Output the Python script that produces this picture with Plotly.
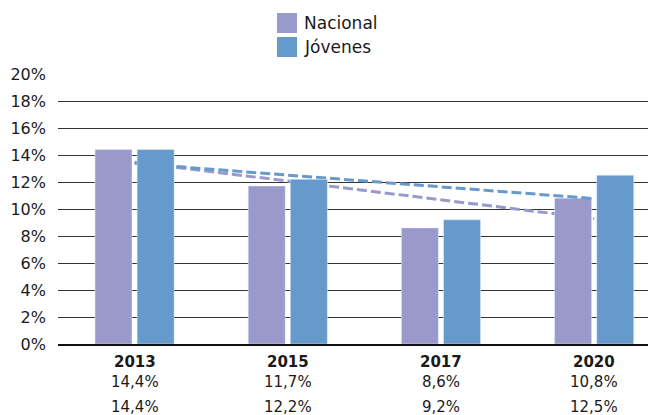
import numpy as np
import plotly.graph_objects as go

# ---- data ----
years = ["2013", "2015", "2017", "2020"]
nacional = [14.4, 11.7, 8.6, 10.8]
jovenes = [14.4, 12.2, 9.2, 12.5]
nacional_labels = ["14,4%", "11,7%", "8,6%", "10,8%"]
jovenes_labels = ["14,4%", "12,2%", "9,2%", "12,5%"]
series_names = ["Nacional", "Jóvenes"]
y_ticks = [0, 2, 4, 6, 8, 10, 12, 14, 16, 18, 20]
y_tick_labels = [f"{v}%" for v in y_ticks]

# ---- style ----
C_NAC = "#9999CC"
C_JOV = "#6699CC"
FONT = "DejaVu Sans"
TXT = "#1a1a1a"

W, H = 648, 415
L, R, T, B = 58, 0, 74, 71
PW, PH = W - L - R, H - T - B


def pxx(px):
    return (px - L) / PW


def pxy(py):
    return (H - B - py) / PH


idx = np.arange(len(years))


def trend(vals):
    m, b = np.polyfit(idx, vals, 1)
    return [b + m * idx[0], b + m * idx[-1]]


CAT_PX = 153.2
x_hi = -0.5 + PW / CAT_PX
BAR_W = 0.2415
dash = dict(width=3, dash="10px,4px")

fig = go.Figure()
# layer 1: Nacional trendline (behind Nacional bars)
fig.add_trace(go.Scatter(x=[years[0], years[-1]], y=trend(nacional), mode="lines",
                         line=dict(color=C_NAC, **dash), xaxis="x", yaxis="y",
                         showlegend=False, hoverinfo="skip"))
# layer 2: Nacional bars, then Jóvenes trendline on top of them
fig.add_trace(go.Bar(x=years, y=nacional, name=series_names[0], marker_color=C_NAC,
                     width=BAR_W, offset=-0.2585, xaxis="x", yaxis="y2", showlegend=False))
fig.add_trace(go.Scatter(x=[years[0], years[-1]], y=trend(jovenes), mode="lines",
                         line=dict(color=C_JOV, **dash), xaxis="x", yaxis="y2",
                         showlegend=False, hoverinfo="skip"))
# layer 3: Jóvenes bars
fig.add_trace(go.Bar(x=years, y=jovenes, name=series_names[1], marker_color=C_JOV,
                     width=BAR_W, offset=0.0165, xaxis="x", yaxis="y3", showlegend=False))

yr = [0, 20]
fig.update_layout(
    width=W, height=H,
    margin=dict(l=L, r=R, t=T, b=B, pad=0),
    paper_bgcolor="white", plot_bgcolor="white",
    barmode="overlay",
    font=dict(family=FONT, color=TXT),
    xaxis=dict(type="category", categoryorder="array", categoryarray=years,
               range=[-0.5, x_hi], showticklabels=False,
               showgrid=False, zeroline=False, showline=True, linecolor="#111",
               linewidth=2, ticks=""),
    yaxis=dict(range=yr, tickvals=y_ticks, ticktext=y_tick_labels, showgrid=True,
               gridcolor="#333", gridwidth=1.2, zeroline=False, ticks="",
               tickfont=dict(size=16, color=TXT), ticklabelstandoff=11),
    yaxis2=dict(range=yr, overlaying="y", visible=False),
    yaxis3=dict(range=yr, overlaying="y", visible=False),
)

# manual legend
legend_colors = [C_NAC, C_JOV]
for i, (name, col) in enumerate(zip(series_names, legend_colors)):
    top = 13 + 24 * i
    fig.add_shape(type="rect", xref="paper", yref="paper",
                  x0=pxx(277), x1=pxx(297), y0=pxy(top + 20), y1=pxy(top),
                  fillcolor=col, line=dict(width=0))
    fig.add_annotation(text=name, xref="paper", yref="paper", x=pxx(302), y=pxy(top + 10),
                       xanchor="left", yanchor="middle", showarrow=False,
                       font=dict(size=17, color=TXT))

# data table under axis (category axis -> numeric index positions)
for i, yv in enumerate(years):
    fig.add_annotation(text=f"<b>{yv}</b>", xref="x", yref="paper", x=i, y=pxy(362),
                       xanchor="center", yanchor="middle", showarrow=False,
                       font=dict(size=15, color=TXT))
    fig.add_annotation(text=nacional_labels[i], xref="x", yref="paper", x=i, y=pxy(381.5),
                       xanchor="center", yanchor="middle", showarrow=False,
                       font=dict(size=15, color=TXT))
    fig.add_annotation(text=jovenes_labels[i], xref="x", yref="paper", x=i, y=pxy(407),
                       xanchor="center", yanchor="middle", showarrow=False,
                       font=dict(size=15, color=TXT))

fig.write_html(
    "out.html", config={"displayModeBar": False},
    post_script=("document.documentElement.style.overflow='hidden';"
                 "document.body.style.margin='0';document.body.style.overflow='hidden';"))
